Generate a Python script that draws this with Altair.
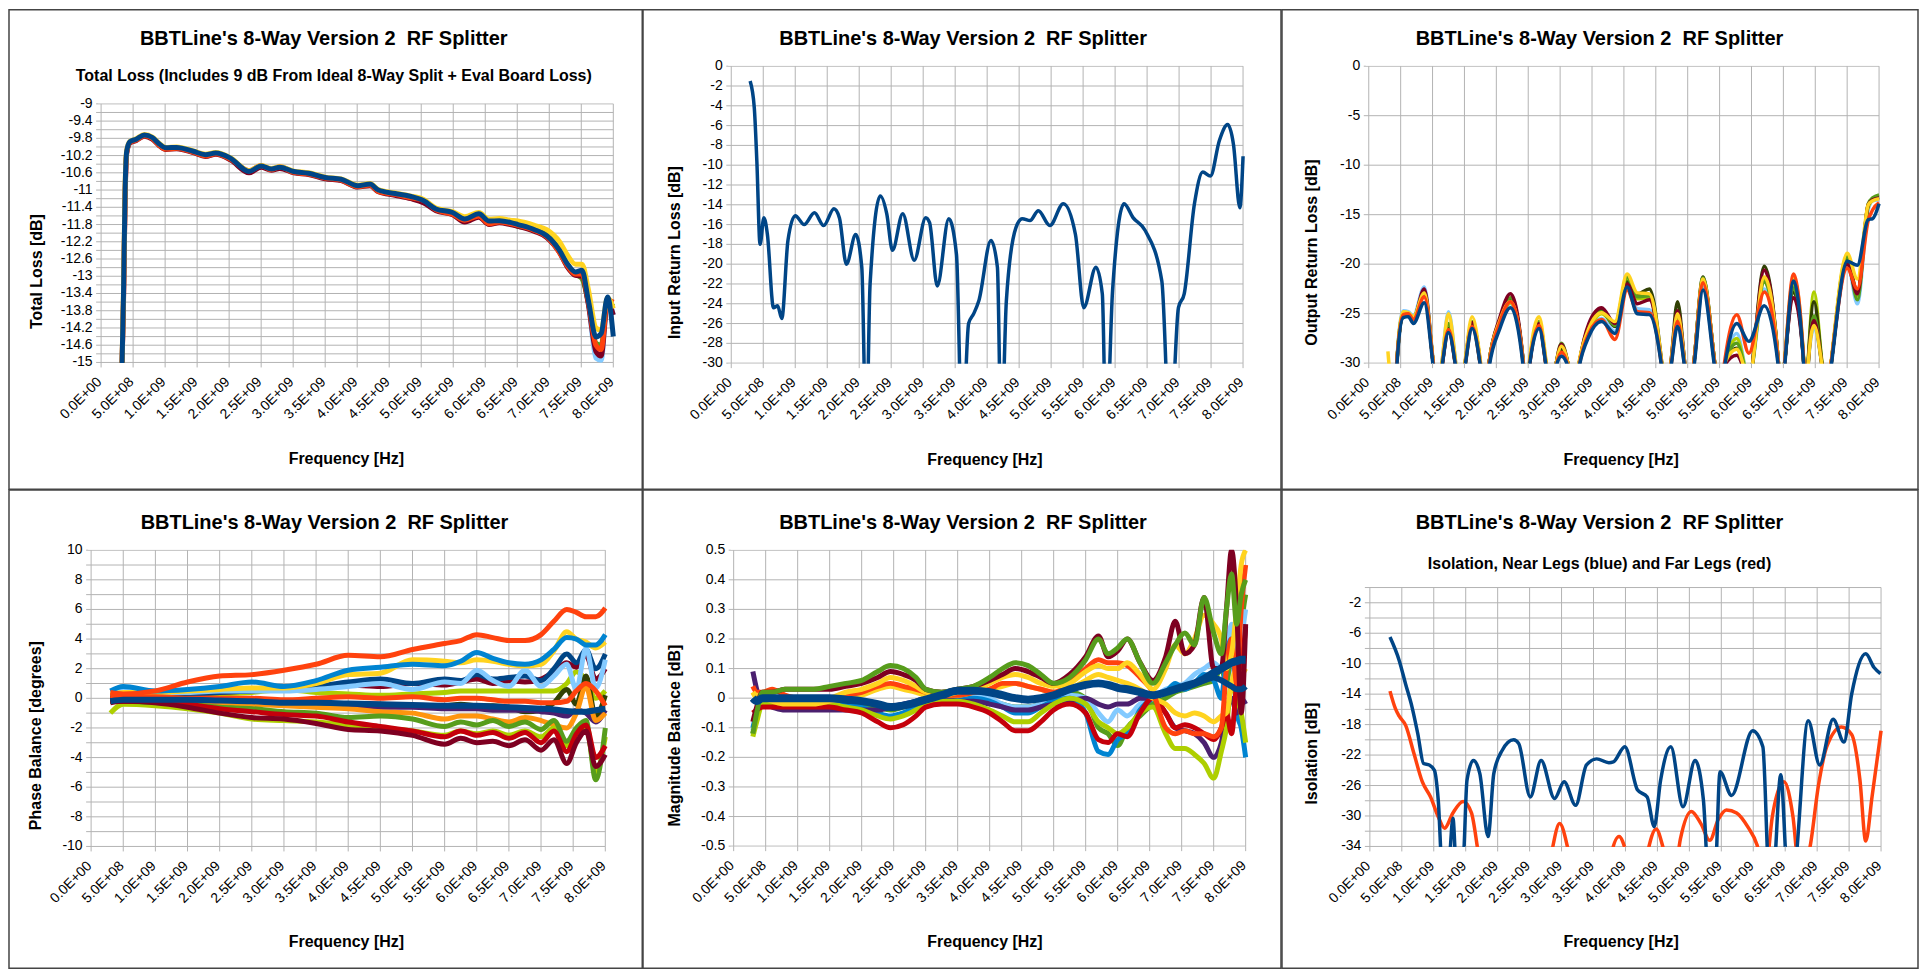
import altair as alt
import pandas as pd

FONT = "Liberation Sans"
GRID = "#b3b3b3"
BORDER = "#444444"

NAVY = "#004586"; ORANGE = "#ff420e"; YELLOW = "#ffd320"; GREEN = "#579d1c"
DARKRED = "#7e0021"; LIGHTBLUE = "#83caff"; OLIVE = "#314004"; LIME = "#aecf00"
PURPLE = "#4b1f6f"; AMBER = "#ff950e"; RED = "#c5000b"; MIDBLUE = "#0084d1"

TITLE = "BBTLine's 8-Way Version 2\u00a0 RF Splitter"
SUB1 = "Total Loss (Includes 9 dB From Ideal 8-Way Split + Eval Board Loss)"
SUB6 = "Isolation, Near Legs (blue) and Far Legs (red)"
XTITLE = "Frequency [Hz]"
YTITLES = ["Total Loss [dB]", "Input Return Loss [dB]", "Output Return Loss [dB]",
           "Phase Balance [degrees]", "Magnitude Balance [dB]", "Isolation [dB]"]

# x ticks (GHz) and their labels (Hz, scientific)
X_TICKS = [0, 0.5, 1.0, 1.5, 2.0, 2.5, 3.0, 3.5, 4.0, 4.5, 5.0, 5.5, 6.0, 6.5, 7.0, 7.5, 8.0]
X_LABELS = ["0.0E+00", "5.0E+08", "1.0E+09", "1.5E+09", "2.0E+09", "2.5E+09", "3.0E+09", "3.5E+09",
            "4.0E+09", "4.5E+09", "5.0E+09", "5.5E+09", "6.0E+09", "6.5E+09", "7.0E+09", "7.5E+09",
            "8.0E+09"]

Y1_GRID = [-9.0, -9.2, -9.4, -9.6, -9.8, -10.0, -10.2, -10.4, -10.6, -10.8, -11.0, -11.2, -11.4,
           -11.6, -11.8, -12.0, -12.2, -12.4, -12.6, -12.8, -13.0, -13.2, -13.4, -13.6, -13.8,
           -14.0, -14.2, -14.4, -14.6, -14.8, -15.0]
Y1_LABELS = ["-9", "-9.4", "-9.8", "-10.2", "-10.6", "-11", "-11.4", "-11.8", "-12.2", "-12.6", "-13",
             "-13.4", "-13.8", "-14.2", "-14.6", "-15"]
Y2_GRID = [0, -2, -4, -6, -8, -10, -12, -14, -16, -18, -20, -22, -24, -26, -28, -30]
Y2_LABELS = ["0", "-2", "-4", "-6", "-8", "-10", "-12", "-14", "-16", "-18", "-20", "-22", "-24",
             "-26", "-28", "-30"]
Y3_GRID = [0, -5, -10, -15, -20, -25, -30]
Y3_LABELS = ["0", "-5", "-10", "-15", "-20", "-25", "-30"]
Y4_GRID = [10, 9, 8, 7, 6, 5, 4, 3, 2, 1, 0, -1, -2, -3, -4, -5, -6, -7, -8, -9, -10]
Y4_LABELS = ["10", "8", "6", "4", "2", "0", "-2", "-4", "-6", "-8", "-10"]
Y5_GRID = [0.5, 0.4, 0.3, 0.2, 0.1, 0.0, -0.1, -0.2, -0.3, -0.4, -0.5]
Y5_LABELS = ["0.5", "0.4", "0.3", "0.2", "0.1", "0", "-0.1", "-0.2", "-0.3", "-0.4", "-0.5"]
Y6_GRID = [0, -2, -4, -6, -8, -10, -12, -14, -16, -18, -20, -22, -24, -26, -28, -30, -32, -34]
Y6_LABELS = ["-2", "-6", "-10", "-14", "-18", "-22", "-26", "-30", "-34"]

# ---------------- Panel 1 : total loss ----------------
F1 = [0.325, 0.35, 0.375, 0.40, 0.45, 0.55, 0.675, 0.80, 0.90, 1.01, 1.18, 1.44, 1.63, 1.79, 2.02,
      2.31, 2.50, 2.66, 2.79, 3.01, 3.24, 3.50, 3.75, 4.01, 4.20, 4.33, 4.59, 4.84, 5.04, 5.23,
      5.49, 5.68, 5.90, 6.06, 6.22, 6.39, 6.51, 6.77, 6.96, 7.16, 7.28, 7.41, 7.51, 7.61, 7.73,
      7.81, 7.91, 8.00]
TL_NAVY = [-15.2, -13.4, -11.0, -10.1, -9.88, -9.82, -9.72, -9.78, -9.92, -10.02, -10.01, -10.10,
           -10.18, -10.14, -10.26, -10.57, -10.44, -10.51, -10.47, -10.57, -10.61, -10.71, -10.75,
           -10.90, -10.86, -11.00, -11.08, -11.15, -11.25, -11.44, -11.52, -11.67, -11.55, -11.72,
           -11.71, -11.75, -11.80, -11.92, -12.06, -12.40, -12.71, -12.90, -12.86, -13.56, -14.41,
           -14.33, -13.48, -14.40]
TL_ORANGE = [-15.2, -13.5, -11.1, -10.12, -9.90, -9.84, -9.74, -9.80, -9.95, -10.05, -10.03, -10.12,
             -10.21, -10.16, -10.28, -10.55, -10.43, -10.53, -10.46, -10.59, -10.63, -10.72, -10.77,
             -10.92, -10.88, -11.03, -11.10, -11.18, -11.24, -11.46, -11.56, -11.70, -11.60, -11.78,
             -11.74, -11.78, -11.82, -11.94, -12.08, -12.45, -12.75, -12.95, -12.95, -13.60, -14.60,
             -14.70, -13.55, -13.60]
TL_DARKRED = [-15.2, -13.6, -11.2, -10.15, -9.91, -9.85, -9.75, -9.82, -9.96, -10.06, -10.04, -10.13,
              -10.22, -10.17, -10.30, -10.60, -10.47, -10.54, -10.50, -10.60, -10.64, -10.74, -10.78,
              -10.93, -10.90, -11.04, -11.12, -11.20, -11.30, -11.48, -11.57, -11.74, -11.63, -11.80,
              -11.76, -11.80, -11.84, -11.96, -12.10, -12.45, -12.78, -12.98, -13.00, -13.65, -14.75,
              -14.85, -13.60, -13.90]
TL_YELLOW = [-15.2, -13.3, -10.9, -10.08, -9.87, -9.81, -9.71, -9.77, -9.91, -10.01, -10.00, -10.09,
             -10.17, -10.13, -10.25, -10.55, -10.43, -10.50, -10.46, -10.56, -10.60, -10.70, -10.74,
             -10.89, -10.85, -10.99, -11.07, -11.14, -11.22, -11.42, -11.50, -11.62, -11.52, -11.68,
             -11.66, -11.70, -11.72, -11.82, -11.92, -12.20, -12.50, -12.72, -12.72, -13.30, -14.20,
             -14.25, -13.50, -13.75]
F1T = [6.39, 6.51, 6.77, 6.96, 7.16, 7.28, 7.41, 7.51, 7.61, 7.73, 7.81, 7.91, 8.00]
TL_GREEN = [-11.78, -11.84, -11.90, -12.04, -12.40, -12.72, -12.95, -13.05, -13.60, -14.55, -14.60, -13.60, -13.70]
TL_LIGHTBLUE = [-11.76, -11.80, -11.92, -12.07, -12.42, -12.74, -12.93, -12.92, -13.62, -14.90, -14.95, -13.55, -13.90]

# ---------------- Panel 2 : input return loss ----------------
F2 = [0.295, 0.36, 0.40, 0.45, 0.51, 0.565, 0.66, 0.725, 0.79, 0.886, 1.00, 1.14, 1.30, 1.445, 1.605,
      1.69, 1.80, 1.945, 2.04, 2.11, 2.17, 2.33, 2.43, 2.52, 2.68, 2.86, 3.04, 3.10, 3.22, 3.40,
      3.52, 3.61, 3.71, 3.79, 3.87, 4.06, 4.16, 4.22, 4.30, 4.45, 4.55, 4.67, 4.80, 4.98, 5.19,
      5.38, 5.51, 5.70, 5.80, 5.86, 5.96, 6.14, 6.28, 6.47, 6.73, 6.86, 6.99, 7.08, 7.24, 7.37,
      7.49, 7.63, 7.76, 7.85, 7.95, 8.00]
IRL = [-1.5, -4.2, -9.6, -18.0, -15.3, -17.0, -24.4, -24.2, -25.5, -17.6, -15.1, -16.0, -14.8, -16.1,
       -14.4, -15.3, -20.0, -17.0, -20.3, -38, -22.0, -13.1, -14.9, -18.6, -14.9, -19.6, -15.3, -15.8,
       -22.2, -15.4, -19.0, -38, -26.0, -25.0, -23.7, -17.6, -20.3, -38, -23.7, -16.3, -15.4, -15.6,
       -14.6, -16.1, -13.9, -17.0, -24.4, -20.3, -23.0, -38, -22.7, -13.9, -15.3, -16.6, -21.7, -38,
       -24.4, -23.0, -13.9, -10.7, -11.1, -7.5, -5.9, -7.9, -14.3, -9.1]

# ---------------- Panel 3 : output return loss ----------------
F3 = [0.30, 0.40,
      0.44, 0.54, 0.62, 0.70, 0.87, 1.01, 1.08,
      1.15, 1.25, 1.36, 1.43,
      1.51, 1.62, 1.75, 1.82,
      1.89, 2.05, 2.22, 2.42, 2.47,
      2.52, 2.67, 2.78, 2.86,
      2.94, 3.02, 3.12, 3.21,
      3.30, 3.45, 3.65, 3.86, 4.05, 4.21, 4.40, 4.59, 4.66,
      4.74, 4.84, 4.95, 5.02,
      5.10, 5.24, 5.42, 5.50,
      5.58, 5.77, 5.96, 6.20, 6.42, 6.47,
      6.52, 6.66, 6.82, 6.855,
      6.89, 6.98, 7.10, 7.18,
      7.25, 7.50, 7.66, 7.83, 7.90, 8.00]
ORL_LIGHTBLUE = [-40, -36,
                 -29.8, -24.7, -24.8, -25.2, -22.3, -29.8, -34,
                 -29.8, -24.8, -29.8, -34,
                 -30.2, -26.2, -30.2, -34,
                 -29.8, -26.0, -24.0, -29.8, -34,
                 -30.2, -26.3, -30.2, -34,
                 -30.2, -29.0, -30.2, -34,
                 -30.0, -27.0, -25.5, -26.8, -22.0, -24.5, -24.6, -30.0, -34,
                 -30.0, -26.0, -30.0, -34,
                 -30.0, -22.3, -30.0, -34,
                 -30.5, -27.0, -31.5, -22.5, -30.0, -34,
                 -30.0, -22.0, -30.0, -34,
                 -30.0, -26.5, -30.0, -34,
                 -30.0, -19.8, -24.0, -14.5, -13.6, -13.5]
ORL_LIME = [-40, -36,
            -30.0, -25.0, -25.0, -25.4, -23.0, -30.0, -34,
            -30.2, -26.2, -30.2, -34,
            -30.2, -26.0, -30.2, -34,
            -29.8, -26.0, -23.9, -29.8, -34,
            -30.2, -26.0, -30.2, -34,
            -30.0, -28.5, -30.0, -34,
            -30.0, -26.8, -25.0, -26.0, -21.6, -23.5, -23.4, -30.0, -34,
            -30.0, -25.5, -30.0, -34,
            -29.8, -21.7, -29.8, -34,
            -30.2, -27.5, -31.5, -21.5, -29.8, -34,
            -30.0, -22.0, -30.0, -34,
            -29.6, -22.8, -29.6, -34,
            -30.0, -19.1, -23.2, -14.2, -13.5, -13.3]
ORL_OLIVE = [-40, -36,
             -30.0, -25.3, -25.2, -25.6, -23.0, -30.0, -34,
             -30.2, -26.5, -30.2, -34,
             -30.2, -26.0, -30.2, -34,
             -29.8, -25.7, -23.5, -29.8, -34,
             -30.2, -26.0, -30.2, -34,
             -30.0, -28.6, -30.0, -34,
             -30.0, -26.2, -24.6, -26.3, -21.8, -23.0, -22.5, -29.8, -34,
             -29.8, -23.8, -29.8, -34,
             -29.8, -21.3, -29.8, -34,
             -30.2, -28.5, -31.5, -20.2, -29.8, -34,
             -30.0, -22.8, -30.0, -34,
             -29.8, -23.8, -29.8, -34,
             -30.0, -19.5, -22.8, -14.0, -13.4, -13.2]
ORL_GREEN = [-40, -36,
             -30.0, -25.0, -25.0, -25.4, -22.8, -30.0, -34,
             -30.0, -26.0, -30.0, -34,
             -30.0, -25.8, -30.0, -34,
             -29.8, -25.8, -23.4, -29.8, -34,
             -30.0, -25.8, -30.0, -34,
             -30.0, -28.0, -30.0, -34,
             -30.0, -26.4, -24.8, -26.2, -21.3, -23.3, -23.2, -30.0, -34,
             -30.0, -25.3, -30.0, -34,
             -29.8, -21.4, -29.8, -34,
             -30.0, -28.0, -31.5, -21.8, -29.8, -34,
             -30.0, -22.4, -30.0, -34,
             -30.0, -25.2, -30.0, -34,
             -30.0, -19.3, -23.6, -13.9, -13.3, -13.0]
ORL_DARKRED = [-40, -36,
               -30.0, -25.2, -25.1, -25.5, -22.5, -30.0, -34,
               -30.2, -26.8, -30.2, -34,
               -30.0, -25.9, -30.0, -34,
               -29.8, -25.5, -23.0, -29.8, -34,
               -30.2, -26.0, -30.2, -34,
               -30.0, -28.1, -30.0, -34,
               -30.0, -26.0, -24.4, -26.0, -22.0, -24.0, -23.6, -30.0, -34,
               -29.8, -24.7, -29.8, -34,
               -29.8, -21.6, -29.8, -34,
               -30.2, -29.2, -31.5, -20.6, -29.8, -34,
               -30.0, -23.4, -30.0, -34,
               -30.0, -25.7, -30.0, -34,
               -30.0, -20.0, -23.0, -14.0, -13.5, -13.3]
ORL_YELLOW = [-28.8, -34,
              -29.8, -24.8, -24.9, -25.3, -22.9, -29.8, -34,
              -29.8, -25.0, -29.8, -34,
              -29.8, -25.3, -29.8, -34,
              -29.8, -25.8, -23.8, -29.8, -34,
              -29.8, -25.3, -29.8, -34,
              -30.0, -28.3, -30.0, -34,
              -29.8, -26.5, -24.9, -25.8, -21.0, -22.9, -23.0, -29.8, -34,
              -29.8, -25.0, -29.8, -34,
              -29.8, -21.5, -29.8, -34,
              -30.0, -28.6, -31.5, -21.3, -29.8, -34,
              -29.8, -21.4, -29.8, -34,
              -30.0, -26.2, -30.0, -34,
              -29.8, -18.9, -21.5, -14.0, -13.6, -13.4]
ORL_ORANGE = [-40, -36,
              -30.0, -25.1, -25.0, -25.6, -23.3, -30.0, -34,
              -30.3, -26.6, -30.3, -34,
              -30.3, -26.3, -30.3, -34,
              -30.0, -26.0, -23.8, -30.0, -34,
              -30.3, -26.2, -30.3, -34,
              -30.3, -28.9, -30.3, -34,
              -30.2, -27.0, -25.6, -27.6, -22.6, -24.8, -24.9, -30.2, -34,
              -30.2, -25.8, -30.2, -34,
              -30.0, -21.9, -30.0, -34,
              -29.8, -25.1, -29.0, -22.8, -30.0, -34,
              -30.0, -21.0, -30.0, -34,
              -34, -31, -34, -34,
              -30.0, -20.4, -22.5, -15.6, -14.5, -13.8]
ORL_NAVY = [-40, -36,
            -30.3, -25.4, -25.3, -26.0, -23.9, -30.3, -34,
            -30.3, -26.9, -30.3, -34,
            -30.3, -26.5, -30.3, -34,
            -30.3, -26.6, -24.4, -30.3, -34,
            -30.3, -26.5, -30.3, -34,
            -30.3, -29.3, -30.3, -34,
            -30.3, -27.3, -25.8, -27.0, -22.3, -25.0, -25.1, -30.3, -34,
            -30.3, -26.3, -30.3, -34,
            -30.3, -22.6, -30.3, -34,
            -30.3, -26.0, -27.8, -24.2, -30.3, -34,
            -30.3, -21.7, -30.3, -34,
            -34, -31, -34, -34,
            -30.3, -19.7, -20.1, -15.5, -15.4, -13.9]

# ---------------- Panel 4 : phase balance ----------------
F4 = [0.30, 0.50, 1.0, 1.5, 2.0, 2.5, 3.0, 3.5, 4.0, 4.5, 5.0, 5.5, 5.75, 6.0, 6.25, 6.5, 6.75,
      7.0, 7.2, 7.4, 7.55, 7.7, 7.85, 8.0]
PB_ORANGE_TOP = [0.4, 0.3, 0.5, 1.1, 1.5, 1.6, 1.9, 2.3, 2.9, 2.8, 3.3, 3.7, 3.9, 4.3, 4.1, 3.9, 3.9, 4.3, 5.2, 6.0, 5.8, 5.5, 5.5, 6.1]
PB_MIDBLUE = [0.5, 0.8, 0.5, 0.6, 0.8, 1.1, 0.8, 1.2, 1.9, 2.1, 2.3, 2.2, 2.5, 3.1, 2.7, 2.4, 2.3, 2.6, 3.3, 4.1, 4.0, 3.6, 3.6, 4.3]
PB_YELLOW = [0.3, 0.4, 0.4, 0.5, 0.6, 0.7, 0.7, 1.0, 1.6, 1.7, 2.6, 2.5, 2.4, 2.6, 2.5, 2.3, 2.2, 2.3, 3.2, 4.5, 4.0, 3.8, 3.4, 3.8]
PB_LIGHTBLUE = [0.4, 0.5, 0.4, 0.4, 0.5, 0.5, 0.5, 0.6, 0.8, 1.0, 0.6, 1.1, 1.0, 1.9, 1.2, 0.8, 1.9, 0.8, 1.5, 2.3, 0.6, 3.4, 0.7, 2.6]
PB_NAVY_UP = [0.1, 0.1, 0.2, 0.3, 0.4, 0.5, 0.6, 0.8, 1.1, 1.3, 1.0, 1.3, 1.2, 1.6, 1.3, 1.4, 1.5, 1.2, 2.0, 3.0, 2.4, 3.3, 2.0, 3.0]
PB_DARKRED_UP = [0.0, 0.1, 0.2, 0.3, 0.4, 0.5, 0.6, 0.7, 0.9, 0.8, 1.0, 0.9, 1.1, 1.3, 1.0, 1.2, 1.1, 1.3, 1.8, 2.4, 2.1, 2.9, 1.3, 2.0]
PB_LIME_UP = [0.2, 0.2, 0.2, 0.2, 0.3, 0.4, 0.6, 0.4, 0.3, 0.2, 0.3, 0.4, 0.5, 0.5, 0.5, 0.5, 0.5, 0.5, 0.5, 1.0, 1.8, 1.2, 0.0, 0.5]
PB_ORANGE_MID = [0.2, 0.1, 0.1, 0.0, 0.0, 0.0, -0.1, 0.0, 0.1, 0.0, 0.1, -0.1, 0.0, 0.0, -0.1, -0.2, -0.2, -0.3, -0.3, -0.2, 0.5, 1.0, 0.5, -0.5]
PB_OLIVE = [-0.1, -0.1, -0.1, -0.1, -0.2, -0.2, -0.3, -0.3, -0.4, -0.4, -0.5, -0.5, -0.4, -0.5, -0.5, -0.6, -0.9, -0.8, -0.3, 0.6, -0.4, 1.5, -1.2, 0.2]
PB_PURPLE = [-0.2, -0.2, -0.2, -0.3, -0.3, -0.4, -0.4, -0.4, -0.5, -0.6, -0.6, -0.7, -0.7, -0.7, -0.8, -0.8, -0.8, -0.9, -1.0, -1.2, -0.8, -1.0, -1.6, -0.8]
PB_AMBER = [0.0, -0.1, -0.1, -0.2, -0.3, -0.4, -0.5, -0.6, -0.7, -0.9, -1.0, -1.4, -1.2, -1.2, -1.4, -1.6, -1.3, -1.5, -1.8, -2.0, -1.0, 0.8, -1.5, -1.0]
PB_GREEN = [-0.2, -0.2, -0.3, -0.4, -0.6, -0.7, -0.9, -1.0, -1.3, -1.2, -1.4, -1.9, -1.6, -1.8, -1.5, -1.9, -1.6, -2.1, -1.5, -2.9, -2.0, -1.5, -5.5, -2.0]
PB_LIME_LO = [-1.0, -0.4, -0.5, -0.7, -1.0, -1.4, -1.5, -1.6, -1.8, -2.0, -2.2, -2.5, -2.2, -2.4, -2.2, -2.5, -2.2, -2.6, -2.0, -3.2, -2.4, -2.0, -5.0, -2.6]
PB_RED = [-0.2, -0.2, -0.2, -0.4, -0.7, -0.9, -1.1, -1.2, -1.6, -1.9, -2.2, -2.6, -2.2, -2.5, -2.3, -2.7, -2.3, -3.0, -2.2, -3.6, -2.4, -1.8, -4.0, -3.2]
PB_DARKRED_LO = [-0.3, -0.2, -0.3, -0.6, -1.0, -1.3, -1.4, -1.7, -2.1, -2.2, -2.5, -3.1, -2.7, -3.0, -2.9, -3.2, -2.8, -3.5, -2.8, -4.4, -3.0, -2.2, -4.6, -3.8]
PB_NAVY = [-0.2, -0.1, -0.1, -0.1, -0.15, -0.2, -0.3, -0.3, -0.35, -0.4, -0.45, -0.5, -0.5, -0.5, -0.55, -0.6, -0.65, -0.7, -0.75, -0.85, -0.9, -0.9, -0.8, -0.7]

# ---------------- Panel 5 : magnitude balance ----------------
F5 = [0.30, 0.36, 0.45, 0.60, 0.80, 1.00, 1.25, 1.50, 1.75, 2.00, 2.25, 2.45, 2.65, 2.85, 3.00,
      3.25, 3.50, 3.75, 4.00, 4.20, 4.40, 4.60, 4.80, 5.00, 5.25, 5.50, 5.70, 5.85, 6.00, 6.15,
      6.35, 6.55, 6.75, 6.90, 7.05, 7.20, 7.35, 7.50, 7.62, 7.70, 7.78, 7.86, 7.93, 8.00]
MB_GREEN_LO = [-0.12, -0.06, -0.01, -0.01, -0.01, -0.01, -0.01, -0.01, -0.01, -0.02, -0.03, -0.04, -0.03, -0.02, -0.01,
               0.0, 0.0, 0.0, -0.01, -0.02, -0.03, -0.03, -0.02, -0.01, 0.02, 0.0, -0.10, -0.12, -0.16, -0.10,
               -0.06, -0.02, 0.0, 0.02, 0.03, 0.04, 0.05, 0.06, 0.10, 0.05, 0.15, 0.10, 0.25, 0.35]
MB_LIGHTBLUE = [-0.11, -0.06, 0.0, 0.0, 0.0, 0.0, 0.0, 0.0, 0.0, -0.01, -0.02, -0.03, -0.02, -0.01, 0.0,
                0.0, 0.01, 0.01, 0.0, -0.02, -0.03, -0.03, -0.02, 0.0, 0.01, 0.0, -0.05, -0.08, -0.04, -0.06,
                -0.02, 0.0, 0.03, 0.04, 0.05, 0.08, 0.10, 0.12, 0.10, 0.15, 0.25, 0.10, 0.20, 0.30]
MB_MIDBLUE = [-0.10, -0.05, -0.01, -0.01, -0.01, -0.01, -0.01, -0.01, -0.02, -0.03, -0.05, -0.06, -0.05, -0.03, -0.01,
              0.0, 0.0, 0.0, -0.01, -0.03, -0.05, -0.05, -0.03, -0.01, 0.0, -0.05, -0.18, -0.19, -0.14, -0.12,
              -0.04, 0.0, 0.02, 0.05, 0.03, 0.05, 0.08, 0.06, 0.0, 0.15, 0.20, -0.05, -0.10, -0.20]
MB_PURPLE = [0.09, 0.03, -0.02, -0.03, -0.04, -0.04, -0.04, -0.04, -0.04, -0.04, -0.04, -0.03, -0.02, -0.01, 0.0,
             0.0, -0.01, -0.01, -0.02, -0.03, -0.04, -0.04, -0.03, -0.02, -0.01, 0.0, -0.02, -0.03, -0.02, -0.02,
             0.0, 0.0, -0.05, -0.10, -0.11, -0.12, -0.15, -0.20, -0.15, -0.05, 0.0, -0.05, 0.0, -0.02]
MB_LIME = [-0.13, -0.08, -0.02, -0.02, -0.02, -0.02, -0.02, -0.02, -0.03, -0.04, -0.06, -0.07, -0.06, -0.04, -0.02,
           -0.01, -0.01, -0.02, -0.04, -0.06, -0.08, -0.08, -0.05, -0.02, 0.0, -0.02, -0.08, -0.10, -0.12, -0.10,
           -0.05, -0.03, -0.12, -0.17, -0.17, -0.19, -0.22, -0.27, -0.18, -0.10, 0.05, 0.0, -0.05, -0.15]
MB_RED = [-0.05, -0.04, -0.03, -0.03, -0.03, -0.03, -0.03, -0.03, -0.04, -0.05, -0.08, -0.10, -0.09, -0.06, -0.03,
          -0.02, -0.02, -0.03, -0.05, -0.08, -0.11, -0.11, -0.08, -0.04, -0.02, -0.05, -0.14, -0.15, -0.12, -0.13,
          -0.05, 0.0, -0.05, -0.10, -0.09, -0.10, -0.12, -0.14, -0.10, -0.05, -0.12, 0.05, 0.10, 0.24]
MB_YELLOW_LO = [0.02, 0.0, 0.0, -0.01, -0.02, -0.02, -0.02, -0.01, 0.0, 0.01, 0.03, 0.04, 0.03, 0.02, 0.01,
                0.01, 0.01, 0.02, 0.03, 0.04, 0.05, 0.04, 0.03, 0.02, 0.03, 0.06, 0.08, 0.07, 0.06, 0.05,
                0.03, 0.0, -0.02, -0.05, -0.06, -0.05, -0.06, -0.08, -0.06, -0.05, 0.05, 0.10, 0.08, 0.10]
MB_ORANGE = [0.04, 0.02, 0.02, 0.03, 0.01, 0.0, 0.0, 0.0, 0.01, 0.02, 0.04, 0.05, 0.04, 0.03, 0.02,
             0.01, 0.01, 0.02, 0.03, 0.05, 0.05, 0.04, 0.03, 0.02, 0.05, 0.10, 0.13, 0.12, 0.12, 0.11,
             0.07, 0.02, -0.10, -0.12, -0.11, -0.12, -0.12, -0.13, -0.10, 0.10, 0.20, 0.05, 0.30, 0.45]
MB_YELLOW_HI = [0.02, 0.01, 0.01, 0.0, -0.01, -0.01, -0.01, 0.0, 0.02, 0.03, 0.05, 0.07, 0.06, 0.04, 0.02,
                0.01, 0.02, 0.03, 0.05, 0.07, 0.08, 0.07, 0.05, 0.04, 0.05, 0.09, 0.11, 0.10, 0.10, 0.12,
                0.08, 0.03, 0.10, 0.18, 0.15, 0.20, 0.28, 0.25, 0.20, 0.10, 0.15, 0.30, 0.45, 0.50]
MB_DARKRED = [-0.08, -0.03, 0.02, 0.02, 0.03, 0.03, 0.03, 0.03, 0.04, 0.05, 0.07, 0.09, 0.08, 0.06, 0.03,
              0.02, 0.03, 0.04, 0.06, 0.08, 0.10, 0.09, 0.07, 0.05, 0.08, 0.14, 0.21, 0.14, 0.16, 0.20,
              0.12, 0.06, 0.14, 0.26, 0.15, 0.18, 0.34, 0.10, 0.10, 0.30, 0.50, 0.30, -0.05, 0.25]
MB_GREEN = [-0.12, -0.05, 0.02, 0.02, 0.03, 0.03, 0.03, 0.04, 0.05, 0.06, 0.09, 0.11, 0.10, 0.07, 0.03,
            0.02, 0.03, 0.04, 0.07, 0.10, 0.12, 0.11, 0.08, 0.05, 0.07, 0.13, 0.20, 0.15, 0.17, 0.20,
            0.12, 0.05, 0.12, 0.18, 0.22, 0.18, 0.34, 0.22, 0.15, 0.30, 0.42, 0.25, 0.35, 0.40]
MB_NAVY_2 = [0.0, -0.01, 0.0, 0.0, 0.0, 0.0, 0.0, 0.0, -0.005, -0.01, -0.02, -0.03, -0.025, -0.015, -0.005,
             0.01, 0.025, 0.025, 0.02, 0.01, 0.0, -0.005, 0.0, 0.01, 0.03, 0.045, 0.05, 0.045, 0.035, 0.03,
             0.02, 0.01, 0.02, 0.03, 0.04, 0.05, 0.06, 0.07, 0.06, 0.05, 0.04, 0.03, 0.03, 0.04]
MB_NAVY = [0.0, -0.01, 0.0, 0.0, 0.0, 0.0, 0.0, 0.0, -0.005, -0.01, -0.02, -0.03, -0.025, -0.015, -0.005,
           0.01, 0.025, 0.025, 0.02, 0.01, 0.0, -0.005, 0.0, 0.01, 0.03, 0.045, 0.05, 0.045, 0.035, 0.03,
           0.02, 0.01, 0.02, 0.03, 0.04, 0.05, 0.065, 0.085, 0.10, 0.11, 0.12, 0.125, 0.13, 0.13]

# ---------------- Panel 6 : isolation ----------------
F6_NEAR = [0.315, 0.46, 0.56, 0.66, 0.75, 0.84, 0.93, 1.01, 1.07, 1.14, 1.24, 1.30, 1.36, 1.46, 1.52,
           1.62, 1.72, 1.85, 1.94, 2.07, 2.25, 2.33, 2.51, 2.68, 2.89, 3.04, 3.22, 3.39, 3.55, 3.74,
           3.81, 3.99, 4.19, 4.34, 4.45, 4.55, 4.71, 4.90, 5.09, 5.22, 5.30, 5.40, 5.48, 5.66, 5.99,
           6.15, 6.25, 6.31, 6.43, 6.54, 6.62, 6.86, 7.04, 7.25, 7.42, 7.54, 7.76, 7.89, 7.99]
ISO_NEAR = [-6.5, -9.6, -12.7, -15.7, -19.2, -23.1, -23.3, -24.0, -27.9, -38, -36, -30.3, -38, -36, -25.3,
            -22.7, -24.4, -32.7, -24.4, -21.4, -20.0, -20.5, -27.5, -22.7, -27.7, -25.5, -28.6, -23.3, -22.5,
            -23.0, -22.9, -20.9, -26.6, -27.5, -31.4, -25.3, -20.9, -28.8, -22.7, -27.9, -38, -38, -24.2,
            -27.3, -18.8, -20.9, -38, -38, -24.6, -38, -38, -17.5, -23.3, -17.3, -20.3, -14.0, -8.7,
            -10.5, -11.3]
F6_FAR = [0.315, 0.40, 0.46, 0.56, 0.69, 0.82, 0.95, 1.07, 1.17, 1.30, 1.46, 1.59, 1.70, 1.85, 2.70,
          2.84, 2.97, 3.12, 3.30, 3.66, 3.78, 3.90, 4.02, 4.20, 4.34, 4.48, 4.62, 4.76, 4.86, 5.03,
          5.18, 5.32, 5.45, 5.58, 5.74, 5.92, 6.06, 6.18, 6.30, 6.48, 6.62, 6.73, 6.89, 7.02, 7.15,
          7.38, 7.54, 7.67, 7.76, 7.86, 8.00]
ISO_FAR = [-13.6, -15.9, -16.9, -18.1, -21.8, -25.5, -27.5, -30.1, -31.6, -29.6, -28.1, -29.6, -35, -42,
           -42, -35, -31.0, -35, -42, -42, -35, -32.7, -35, -42, -35, -31.7, -35, -38, -33, -29.4, -31.0,
           -33.2, -30.5, -29.2, -29.6, -31.5, -33.8, -38, -30.0, -25.5, -30.0, -38, -34, -26, -20.9,
           -18.3, -19.3, -25.3, -33.3, -27.4, -18.8]


def make_panel(origin, cw, ch, plot, ydom, ygrid, ylabels, lines, texts):
    ox, oy = origin
    L, R, T, B = plot[0] - ox, plot[1] - ox, plot[2] - oy, plot[3] - oy
    xs = alt.Scale(domain=[0, 8], range=[L, R], nice=False, zero=False)
    ys = alt.Scale(domain=ydom, range=[B, T], nice=False, zero=False)
    X = alt.X("f:Q", scale=xs, axis=None)
    Y = alt.Y("v:Q", scale=ys, axis=None)
    one = pd.DataFrame({"k": [0]})
    layers = []
    # grid: horizontal lines (with outer tick stubs) and vertical lines
    layers.append(alt.Chart(pd.DataFrame({"v": ygrid})).mark_rule(color=GRID, strokeWidth=1).encode(
        y=Y, x=alt.value(L - 5), x2=alt.value(R)))
    layers.append(alt.Chart(pd.DataFrame({"f": X_TICKS})).mark_rule(color=GRID, strokeWidth=1).encode(
        x=X, y=alt.value(T), y2=alt.value(B)))
    # data series
    for freqs, vals, color, sw in lines:
        df = pd.DataFrame({"f": freqs, "v": vals})
        layers.append(alt.Chart(df).mark_line(color=color, strokeWidth=sw, interpolate="monotone").encode(
            x=X, y=Y))
    # white masks outside the plot area (clip the curves to the plot frame)
    layers.append(alt.Chart(one).mark_rect(fill="white").encode(
        x=alt.value(L - 3), x2=alt.value(R + 3), y=alt.value(B + 0.5), y2=alt.value(B + 100)))
    layers.append(alt.Chart(one).mark_rect(fill="white").encode(
        x=alt.value(L - 3), x2=alt.value(R + 3), y=alt.value(T - 12), y2=alt.value(T - 0.5)))
    # x tick stubs
    layers.append(alt.Chart(pd.DataFrame({"f": X_TICKS})).mark_rule(color=GRID, strokeWidth=1).encode(
        x=X, y=alt.value(B), y2=alt.value(B + 5)))
    # y tick labels
    ydf = pd.DataFrame({"v": [float(s) for s in ylabels], "lab": ylabels})
    layers.append(alt.Chart(ydf).mark_text(font=FONT, fontSize=14, color="#000000", align="right",
                                           baseline="middle").encode(
        y=Y, x=alt.value(L - 8.5), text="lab:N"))
    # x tick labels (rotated)
    xdf = pd.DataFrame({"f": X_TICKS, "lab": X_LABELS})
    layers.append(alt.Chart(xdf).mark_text(font=FONT, fontSize=14, color="#000000", align="right",
                                           baseline="middle", angle=315, dx=-2).encode(
        x=X, y=alt.value(B + 16), text="lab:N"))
    # titles
    for txt, tx, ty, size, angle in texts:
        layers.append(alt.Chart(one).mark_text(text=txt, font=FONT, fontSize=size, fontWeight="bold",
                                               color="#000000", align="center", baseline="middle",
                                               angle=angle).encode(x=alt.value(tx - ox), y=alt.value(ty - oy)))
    # cell frame
    layers.append(alt.Chart(one).mark_rect(filled=False, stroke=BORDER, strokeWidth=1.5).encode(
        x=alt.value(0), x2=alt.value(cw), y=alt.value(0), y2=alt.value(ch)))
    return alt.layer(*layers).properties(width=cw, height=ch)


# cell origins on the page (x per column, y per row) and cell sizes
CX = [8.75, 643, 1282]
CY = [8.75, 489]
CWID = [643 - 8.75, 1282 - 643, 1919 - 1282]
CHGT = [489 - 8.75, 968 - 489]

p1 = make_panel(
    (CX[0], CY[0]), CWID[0], CHGT[0], (101, 614, 103, 362), [-15, -9], Y1_GRID, Y1_LABELS,
    [(F1T, TL_LIGHTBLUE, LIGHTBLUE, 5), (F1T, TL_GREEN, GREEN, 5), (F1, TL_DARKRED, DARKRED, 5),
     (F1, TL_ORANGE, ORANGE, 5), (F1, TL_YELLOW, YELLOW, 5), (F1, TL_NAVY, NAVY, 5)],
    [(TITLE, 324, 38.3, 20, 0), (SUB1, 334, 75, 16, 0), (YTITLES[0], 37, 271, 16, 270),
     (XTITLE, 346.6, 459, 16, 0)])

p2 = make_panel(
    (CX[1], CY[0]), CWID[1], CHGT[0], (731.4, 1244, 65.3, 362.7), [-30, 0], Y2_GRID, Y2_LABELS,
    [(F2, IRL, NAVY, 3.5)],
    [(TITLE, 963.6, 38.3, 20, 0), (YTITLES[1], 675, 252, 16, 270), (XTITLE, 985.5, 459.5, 16, 0)])

p3 = make_panel(
    (CX[2], CY[0]), CWID[2], CHGT[0], (1368.9, 1880, 65.3, 362.7), [-30, 0], Y3_GRID, Y3_LABELS,
    [(F3, ORL_LIGHTBLUE, LIGHTBLUE, 3.5), (F3, ORL_LIME, LIME, 3.5), (F3, ORL_OLIVE, OLIVE, 3.5),
     (F3, ORL_GREEN, GREEN, 3.5), (F3, ORL_DARKRED, DARKRED, 3.5), (F3, ORL_YELLOW, YELLOW, 3.5),
     (F3, ORL_ORANGE, ORANGE, 3.5), (F3, ORL_NAVY, NAVY, 3.5)],
    [(TITLE, 1600, 38.3, 20, 0), (YTITLES[2], 1312, 252, 16, 270), (XTITLE, 1621.6, 459.5, 16, 0)])

p4 = make_panel(
    (CX[0], CY[1]), CWID[0], CHGT[1], (91, 606, 549.3, 846), [-10, 10], Y4_GRID, Y4_LABELS,
    [(F4, PB_LIME_UP, LIME, 5), (F4, PB_OLIVE, OLIVE, 5), (F4, PB_PURPLE, PURPLE, 5),
     (F4, PB_AMBER, AMBER, 5), (F4, PB_LIME_LO, LIME, 5), (F4, PB_GREEN, GREEN, 5),
     (F4, PB_RED, RED, 5), (F4, PB_DARKRED_LO, DARKRED, 5), (F4, PB_DARKRED_UP, DARKRED, 5),
     (F4, PB_NAVY_UP, NAVY, 5), (F4, PB_LIGHTBLUE, LIGHTBLUE, 5), (F4, PB_YELLOW, YELLOW, 5),
     (F4, PB_MIDBLUE, MIDBLUE, 5), (F4, PB_ORANGE_MID, ORANGE, 5), (F4, PB_ORANGE_TOP, ORANGE, 5),
     (F4, PB_NAVY, NAVY, 6)],
    [(TITLE, 324.7, 521.7, 20, 0), (YTITLES[3], 36, 735, 16, 270), (XTITLE, 346.7, 942, 16, 0)])

p5 = make_panel(
    (CX[1], CY[1]), CWID[1], CHGT[1], (733.8, 1246.6, 549.3, 845.7), [-0.5, 0.5], Y5_GRID, Y5_LABELS,
    [(F5, MB_GREEN_LO, GREEN, 5), (F5, MB_LIGHTBLUE, LIGHTBLUE, 5), (F5, MB_MIDBLUE, MIDBLUE, 5),
     (F5, MB_PURPLE, PURPLE, 5), (F5, MB_LIME, LIME, 5), (F5, MB_RED, RED, 5),
     (F5, MB_YELLOW_LO, YELLOW, 5), (F5, MB_ORANGE, ORANGE, 5), (F5, MB_YELLOW_HI, YELLOW, 5),
     (F5, MB_DARKRED, DARKRED, 5), (F5, MB_GREEN, GREEN, 5), (F5, MB_NAVY_2, NAVY, 6),
     (F5, MB_NAVY, NAVY, 8)],
    [(TITLE, 963.5, 521.7, 20, 0), (YTITLES[4], 675, 735, 16, 270), (XTITLE, 985.5, 942, 16, 0)])

p6 = make_panel(
    (CX[2], CY[1]), CWID[2], CHGT[1], (1370, 1882, 586.7, 846), [-34, 0], Y6_GRID, Y6_LABELS,
    [(F6_FAR, ISO_FAR, ORANGE, 3.5), (F6_NEAR, ISO_NEAR, NAVY, 3.5)],
    [(TITLE, 1600, 521.7, 20, 0), (SUB6, 1600, 563, 16, 0), (YTITLES[5], 1312, 753, 16, 270),
     (XTITLE, 1621.6, 942, 16, 0)])

chart = alt.concat(p1, p2, p3, p4, p5, p6, columns=3, spacing=-1.5).properties(
    align="each", bounds="full", padding=0, background="white",
).configure_view(strokeOpacity=0)

chart.save("out.html", embed_options={"renderer": "svg", "actions": False})
